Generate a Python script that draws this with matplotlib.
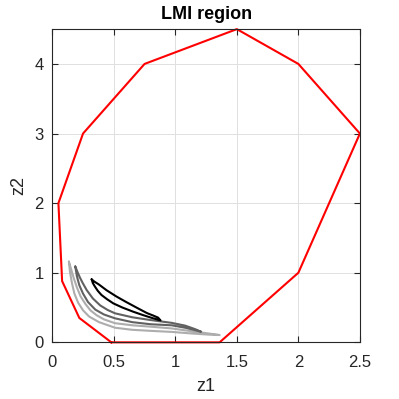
import matplotlib
matplotlib.use('Agg')
import matplotlib.pyplot as plt

plt.rcParams['font.family'] = ['Liberation Sans', 'DejaVu Sans']

# LMI region boundary (closed polygon)
region_z1 = [0.48, 1.36, 2.0, 2.5, 2.0, 1.5, 0.75, 0.25, 0.05, 0.08, 0.22, 0.48]
region_z2 = [0.0, 0.0, 1.0, 3.0, 4.0, 4.5, 4.0, 3.0, 2.0, 0.88, 0.35, 0.0]

# trajectories (closed loops)
light_z1 = [0.135, 0.145, 0.16, 0.18, 0.21, 0.25, 0.30, 0.38, 0.51, 0.65, 0.8,
            0.97, 1.15, 1.28, 1.36,
            1.28, 1.15, 0.97, 0.8, 0.65, 0.51, 0.42, 0.36, 0.31, 0.27, 0.23,
            0.2, 0.175, 0.155, 0.135]
light_z2 = [1.16, 1.0, 0.85, 0.70, 0.57, 0.46, 0.37, 0.29, 0.21, 0.18, 0.165,
            0.15, 0.125, 0.11, 0.105,
            0.125, 0.155, 0.20, 0.225, 0.245, 0.275, 0.33, 0.39, 0.46, 0.55,
            0.66, 0.79, 0.92, 1.04, 1.16]

dark_z1 = [0.187, 0.20, 0.22, 0.25, 0.29, 0.35, 0.42, 0.51, 0.65, 0.8, 0.97,
           1.08, 1.16, 1.21,
           1.16, 1.08, 0.97, 0.8, 0.65, 0.51, 0.45, 0.39, 0.33, 0.28, 0.245,
           0.225, 0.205, 0.187]
dark_z2 = [1.09, 0.95, 0.82, 0.70, 0.58, 0.47, 0.40, 0.345, 0.29, 0.26, 0.245,
           0.21, 0.175, 0.152,
           0.19, 0.24, 0.28, 0.32, 0.36, 0.417, 0.465, 0.53, 0.63, 0.75, 0.86,
           0.93, 1.01, 1.09]

black_z1 = [0.32, 0.33, 0.347, 0.37, 0.40, 0.445, 0.496, 0.57, 0.658, 0.74,
            0.82, 0.86, 0.88,
            0.86, 0.82, 0.77, 0.70, 0.60, 0.52, 0.44, 0.38, 0.34, 0.32]
black_z2 = [0.905, 0.85, 0.80, 0.74, 0.68, 0.62, 0.56, 0.50, 0.44, 0.39,
            0.345, 0.325, 0.315,
            0.355, 0.385, 0.42, 0.485, 0.58, 0.66, 0.75, 0.83, 0.875, 0.905]

xticks = [0, 0.5, 1, 1.5, 2, 2.5]
xtick_labels = ['0', '0.5', '1', '1.5', '2', '2.5']
yticks = [0, 1, 2, 3, 4]

fig = plt.figure(figsize=(3.99, 3.99), dpi=100)
ax = fig.add_axes([0.131, 0.142, 0.771, 0.785])

line_kw = dict(lw=1.5, solid_joinstyle='round', solid_capstyle='round')
ax.plot(light_z1, light_z2, color=(0.68, 0.68, 0.68), **line_kw)
ax.plot(dark_z1, dark_z2, color=(0.38, 0.38, 0.38), **line_kw)
ax.plot(black_z1, black_z2, color='k', **line_kw)
ax.plot(region_z1, region_z2, color='r', lw=1.5, clip_on=False)

ax.set_xlim(0, 2.5)
ax.set_ylim(0, 4.5)
ax.set_xticks(xticks)
ax.set_xticklabels(xtick_labels)
ax.set_yticks(yticks)
ax.grid(True, color=(0.88, 0.88, 0.88), lw=0.7)
ax.set_axisbelow(True)
ax.tick_params(direction='in', top=True, right=True, labelsize=12,
               colors=(0.15, 0.15, 0.15), length=4, pad=6)
ax.tick_params(axis='x', pad=9)
for s in ax.spines.values():
    s.set_color((0.15, 0.15, 0.15))
    s.set_linewidth(0.8)

ax.set_xlabel('z1', fontsize=13, color=(0.15, 0.15, 0.15), labelpad=6)
ax.set_ylabel('z2', fontsize=13, color=(0.15, 0.15, 0.15), labelpad=5)
ax.set_title('LMI region', fontsize=13, fontweight='bold', pad=7)

fig.savefig('out.png', dpi=100)
